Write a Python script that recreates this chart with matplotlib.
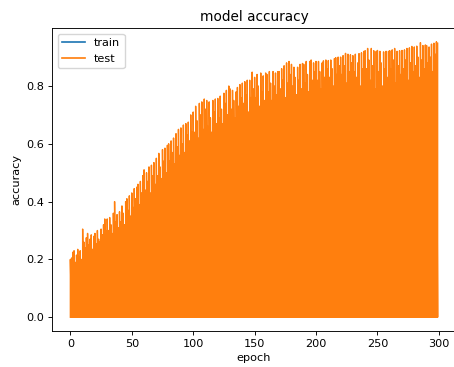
import numpy as np
import matplotlib
matplotlib.use("Agg")
import matplotlib.pyplot as plt

# ---- data (one value per epoch) ----
test_acc = [
    0.20, 0.205, 0.225, 0.23, 0.19, 0.215, 0.235, 0.21, 0.23, 0.20,
    0.305, 0.26, 0.24, 0.275, 0.29, 0.25, 0.27, 0.285, 0.235, 0.28,
    0.29, 0.255, 0.30, 0.27, 0.26, 0.305, 0.285, 0.32, 0.34, 0.30,
    0.34, 0.30, 0.345, 0.32, 0.29, 0.36, 0.40, 0.33, 0.355, 0.31,
    0.365, 0.33, 0.385, 0.36, 0.32, 0.40, 0.41, 0.37, 0.42, 0.35,
    0.43, 0.38, 0.445, 0.41, 0.45, 0.46, 0.39, 0.47, 0.43, 0.49,
    0.51, 0.44, 0.50, 0.47, 0.52, 0.43, 0.526, 0.49, 0.535, 0.46,
    0.55, 0.49, 0.567, 0.52, 0.48, 0.58, 0.54, 0.585, 0.50, 0.595,
    0.60, 0.54, 0.61, 0.57, 0.62, 0.53, 0.635, 0.59, 0.65, 0.56,
    0.655, 0.60, 0.665, 0.57, 0.67, 0.63, 0.675, 0.61, 0.70, 0.64,
    0.71, 0.64, 0.73, 0.68, 0.62, 0.74, 0.70, 0.745, 0.65, 0.755,
    0.72, 0.75, 0.66, 0.745, 0.69, 0.64, 0.75, 0.71, 0.755, 0.67,
    0.757, 0.69, 0.765, 0.72, 0.67, 0.775, 0.74, 0.785, 0.70, 0.80,
    0.79, 0.72, 0.785, 0.75, 0.69, 0.78, 0.795, 0.73, 0.805, 0.76,
    0.81, 0.74, 0.815, 0.77, 0.82, 0.71, 0.82, 0.76, 0.848, 0.79,
    0.83, 0.76, 0.84, 0.80, 0.73, 0.845, 0.78, 0.835, 0.75, 0.845,
    0.84, 0.78, 0.85, 0.81, 0.75, 0.85, 0.80, 0.845, 0.77, 0.85,
    0.85, 0.79, 0.86, 0.82, 0.87, 0.76, 0.88, 0.81, 0.885, 0.84,
    0.875, 0.80, 0.865, 0.83, 0.77, 0.865, 0.82, 0.875, 0.79, 0.878,
    0.875, 0.81, 0.885, 0.84, 0.78, 0.885, 0.89, 0.82, 0.88, 0.85,
    0.885, 0.82, 0.885, 0.85, 0.79, 0.88, 0.887, 0.83, 0.89, 0.86,
    0.888, 0.83, 0.89, 0.86, 0.80, 0.895, 0.898, 0.84, 0.90, 0.87,
    0.90, 0.84, 0.905, 0.87, 0.913, 0.81, 0.91, 0.85, 0.908, 0.88,
    0.905, 0.85, 0.91, 0.83, 0.88, 0.912, 0.80, 0.915, 0.86, 0.92,
    0.922, 0.86, 0.93, 0.89, 0.82, 0.93, 0.87, 0.922, 0.79, 0.92,
    0.923, 0.85, 0.92, 0.88, 0.80, 0.918, 0.86, 0.92, 0.83, 0.92,
    0.922, 0.86, 0.925, 0.89, 0.93, 0.81, 0.92, 0.87, 0.922, 0.84,
    0.923, 0.86, 0.925, 0.89, 0.93, 0.82, 0.932, 0.88, 0.937, 0.85,
    0.935, 0.87, 0.938, 0.90, 0.83, 0.95, 0.89, 0.94, 0.86, 0.942,
    0.94, 0.88, 0.935, 0.90, 0.945, 0.85, 0.948, 0.91, 0.953, 0.948,
]
epochs = list(range(len(test_acc)))
# the train curve is completely hidden under the test curve in the reference
train_acc = list(test_acc)

x_ticks = [0, 50, 100, 150, 200, 250, 300]
y_ticks = [0.0, 0.2, 0.4, 0.6, 0.8]

# ---- style ----
s = 0.815
plt.rcParams.update({
    "font.size": 10 * s,
    "lines.linewidth": 1.5 * s,
    "axes.linewidth": 0.8 * s,
    "xtick.major.size": 3.5 * s,
    "ytick.major.size": 3.5 * s,
    "xtick.major.width": 0.8 * s,
    "ytick.major.width": 0.8 * s,
    "xtick.major.pad": 3.5 * s,
    "ytick.major.pad": 3.5 * s,
    "axes.titlepad": 6 * s,
    "axes.labelpad": 4 * s,
})

fig = plt.figure(figsize=(4.54, 3.67), dpi=100)
ax = fig.add_axes([52 / 454, 36 / 367, 404 / 454, 303 / 367])


def zigzag(ep, vals):
    xs = np.repeat(np.asarray(ep, dtype=float), 2)
    ys = np.column_stack([np.zeros(len(vals)), np.asarray(vals)]).ravel()
    return xs, ys


tx, ty = zigzag(epochs, train_acc)
vx, vy = zigzag(epochs, test_acc)
ax.plot(tx, ty, color="#1f77b4", lw=0.2, label="train")
ax.plot(vx, vy, color="#ff7f0e", lw=1.0, label="test")

ax.spines["right"].set_visible(False)
ax.set_xticks(x_ticks)
ax.set_yticks(y_ticks)
ax.set_title("model accuracy")
ax.set_xlabel("epoch")
ax.set_ylabel("accuracy")
leg = ax.legend(loc="upper left")
for ln in leg.get_lines():
    ln.set_linewidth(1.5 * s)

fig.savefig("out.png", dpi=100)
